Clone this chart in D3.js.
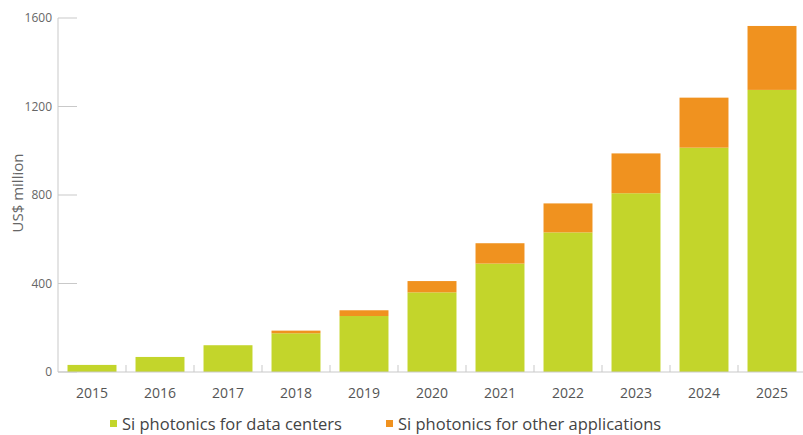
<!DOCTYPE html>
<html>
<head>
<meta charset="utf-8">
<script src="https://cdn.jsdelivr.net/npm/d3@7"></script>
<style>
  body { margin: 0; background: #fff; }
  svg { display: block; font-family: "Open Sans", sans-serif; }
</style>
</head>
<body>
<div id="chart"></div>
<script>
// data
var years = ["2015", "2016", "2017", "2018", "2019", "2020", "2021", "2022", "2023", "2024", "2025"];
var dataCenters = [32, 68, 121, 175, 253, 360, 490, 631, 808, 1014, 1275];
var otherApps = [0, 0, 0, 12, 26, 51, 92, 131, 180, 226, 289];
var yTicks = [0, 400, 800, 1200, 1600];
var seriesNames = ["Si photonics for data centers", "Si photonics for other applications"];
var colors = ["#c3d52b", "#f0921f"];

var W = 803, H = 435;
var margin = {top: 18, right: -3, bottom: 63, left: 58};
var width = W - margin.left - margin.right;
var height = H - margin.top - margin.bottom;

var svg = d3.select("#chart").append("svg")
    .attr("width", W)
    .attr("height", H);

var g = svg.append("g")
    .attr("transform", "translate(" + margin.left + "," + margin.top + ")");

var x = d3.scaleBand()
    .domain(years)
    .range([0, width])
    .paddingInner(0.28)
    .paddingOuter(0.14);

var y = d3.scaleLinear()
    .domain([0, 1600])
    .range([height, 0]);

// stack the two series
var rows = years.map(function(yr, i) {
    return {year: yr, dc: dataCenters[i], other: otherApps[i]};
});
var stack = d3.stack().keys(["dc", "other"]);
var layers = stack(rows);

// y axis: line + inward ticks
g.append("line")
    .attr("x1", 0).attr("x2", 0)
    .attr("y1", y(1600)).attr("y2", y(0))
    .attr("stroke", "#c9c9c9");

g.selectAll(".ytick")
    .data(yTicks)
    .enter()
    .append("line")
    .attr("x1", 0).attr("x2", 19)
    .attr("y1", function(d) { return y(d); })
    .attr("y2", function(d) { return y(d); })
    .attr("stroke", "#c9c9c9");

g.selectAll(".ylabel")
    .data(yTicks)
    .enter()
    .append("text")
    .attr("x", -6)
    .attr("y", function(d) { return y(d); })
    .attr("dy", "0.35em")
    .attr("text-anchor", "end")
    .attr("font-size", 12)
    .attr("fill", "#666")
    .text(function(d) { return d; });

// bars
g.selectAll(".layer")
    .data(layers)
    .enter()
    .append("g")
    .attr("fill", function(d, i) { return colors[i]; })
    .selectAll("rect")
    .data(function(d) { return d; })
    .enter()
    .append("rect")
    .attr("x", function(d) { return x(d.data.year); })
    .attr("y", function(d) { return y(d[1]); })
    .attr("width", x.bandwidth())
    .attr("height", function(d) { return y(d[0]) - y(d[1]); });

// x axis line + small ticks between bars
g.append("line")
    .attr("x1", 0).attr("x2", width)
    .attr("y1", height).attr("y2", height)
    .attr("stroke", "#c9c9c9");

var step = x.step();
g.selectAll(".xtick")
    .data(years.slice(1))
    .enter()
    .append("line")
    .attr("x1", function(d) { return x(d) - (step - x.bandwidth()) / 2; })
    .attr("x2", function(d) { return x(d) - (step - x.bandwidth()) / 2; })
    .attr("y1", height).attr("y2", height - 7)
    .attr("stroke", "#c9c9c9");

g.selectAll(".xlabel")
    .data(years)
    .enter()
    .append("text")
    .attr("x", function(d) { return x(d) + x.bandwidth() / 2; })
    .attr("y", height + 26)
    .attr("text-anchor", "middle")
    .attr("font-size", 14)
    .attr("fill", "#555")
    .text(function(d) { return d; });

// y axis title
svg.append("text")
    .attr("transform", "translate(23," + 193 + ") rotate(-90)")
    .attr("text-anchor", "middle")
    .attr("font-size", 15)
    .attr("fill", "#666")
    .text("US$ million");

// legend
var legendX = [110, 386];
var legend = svg.selectAll(".legend")
    .data(seriesNames)
    .enter()
    .append("g")
    .attr("transform", function(d, i) { return "translate(" + legendX[i] + ",420)"; });

legend.append("rect")
    .attr("width", 7).attr("height", 7)
    .attr("fill", function(d, i) { return colors[i]; });

legend.append("text")
    .attr("x", 12)
    .attr("y", 10)
    .attr("font-size", 16.5)
    .attr("fill", "#444")
    .text(function(d) { return d; });
</script>
</body>
</html>
